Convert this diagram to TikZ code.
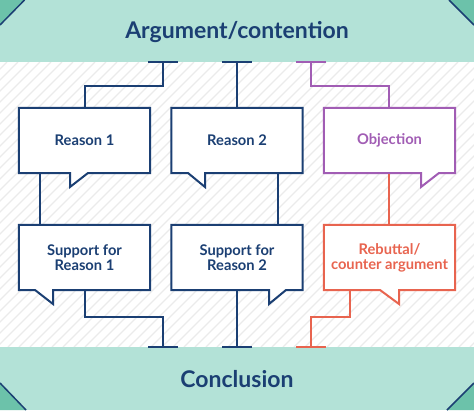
\documentclass[tikz,border=0pt]{standalone}
\usepackage{fontspec}
\setmainfont{Lato}
\usetikzlibrary{calc}
\definecolor{navy}{HTML}{1B3F73}
\definecolor{purp}{HTML}{A15DB4}
\definecolor{oran}{HTML}{E8644F}
\definecolor{band}{HTML}{B3E2D7}
\definecolor{corner}{HTML}{6CC2AA}
\definecolor{hatch}{HTML}{EBEBEB}
\tikzset{
  box/.style={minimum width=131pt, minimum height=65pt, inner sep=0pt, align=center,
    font=\fontsize{14.7}{15}\selectfont\bfseries},
  outline/.style={line width=2pt, fill=white, line join=miter},
  conn/.style={line width=2pt},
  title/.style={font=\fontsize{23}{26}\selectfont\bfseries, text=navy, inner sep=0pt},
}
\begin{document}
\begin{tikzpicture}[x=1pt,y=-1pt]
\useasboundingbox (0,0) rectangle (474,410);
% background hatch
\fill[white] (0,62) rectangle (474,347);
\begin{scope}
\clip (0,62) rectangle (474,347);
\foreach \i in {-300,-289,...,480}{
  \draw[hatch, line width=1.3pt] (\i,347) -- ++(285,-285);
}
\end{scope}
% bands
\fill[band] (0,0) rectangle (474,62);
\fill[band] (0,347) rectangle (474,410);
% corners
\fill[corner] (0,0) -- (24.5,0) -- (0,25) -- cycle;
\fill[corner] (474,0) -- (449,0) -- (474,25) -- cycle;
\fill[corner] (0,410) -- (26,410) -- (0,383) -- cycle;
\fill[corner] (474,410) -- (447,410) -- (474,383) -- cycle;
\draw[navy, line width=1.5pt] (24.5,0) -- (0,25);
\draw[navy, line width=1.5pt] (449,0) -- (474,25);
\draw[navy, line width=1.5pt] (26,410) -- (0,383);
\draw[navy, line width=1.5pt] (447,410) -- (474,383);
% titles
\node[title] (arg) at (237,32) {Argument/contention};
\node[title] (con) at (237,379) {Conclusion};
% box anchors (named nodes)
\node[box] (r1) at (84.5,140.5) {};
\node[box] (r2) at (237,140.5) {};
\node[box] (ob) at (389.5,140.5) {};
\node[box] (s1) at (84.5,257.5) {};
\node[box] (s2) at (237,257.5) {};
\node[box] (rb) at (389.5,257.5) {};
% outlines with tails
\draw[outline, draw=navy] (r1.north west) -- (r1.north east) -- (r1.south east) -- (88,173) -- (70,187) -- (70,173) -- (r1.south west) -- cycle;
\draw[outline, draw=navy] (r2.north west) -- (r2.north east) -- (r2.south east) -- (205,173) -- (205,187) -- (188,173) -- (r2.south west) -- cycle;
\draw[outline, draw=purp] (ob.north west) -- (ob.north east) -- (ob.south east) -- (439,173) -- (421,187) -- (421,173) -- (ob.south west) -- cycle;
\draw[outline, draw=navy] (s1.north west) -- (s1.north east) -- (s1.south east) -- (53,290) -- (53,304) -- (35,290) -- (s1.south west) -- cycle;
\draw[outline, draw=navy] (s2.north west) -- (s2.north east) -- (s2.south east) -- (286,290) -- (269,304) -- (269,290) -- (s2.south west) -- cycle;
\draw[outline, draw=oran] (rb.north west) -- (rb.north east) -- (rb.south east) -- (399,290) -- (399,304) -- (380,290) -- (rb.south west) -- cycle;
% texts
\node[box, text=navy] at (r1) {Reason 1};
\node[box, text=navy] at (r2) {Reason 2};
\node[box, text=purp] at (ob) {Objection};
\node[box, text=navy] at (s1) {Support for\\Reason 1};
\node[box, text=navy] at (s2) {Support for\\Reason 2};
\node[box, text=oran] at (rb) {Rebuttal/\\counter argument};
% tee coordinates
\coordinate (ta) at (163,62);
\coordinate (tb) at (237,62);
\coordinate (tc) at (311,62);
\coordinate (ba) at (163,347);
\coordinate (bb) at (237,347);
\coordinate (bc) at (311,347);
% top connectors
\draw[conn, navy] ($(ta)+(-15,0)$) -- ($(ta)+(15,0)$);
\draw[conn, navy] ($(tb)+(-15,0)$) -- ($(tb)+(15,0)$);
\draw[conn, purp] ($(tc)+(-15,0)$) -- ($(tc)+(15,0)$);
\draw[conn, navy] (ta) -- (163,86) -- (85,86) -- (85,107);
\draw[conn, navy] (tb) -- (r2.north);
\draw[conn, purp] (tc) -- (311,86) -- (389,86) -- (389,107);
% middle connectors
\draw[conn, navy] (40,174) -- (40,224);
\draw[conn, navy] (278,174) -- (278,224);
\draw[conn, oran] (389,174) -- (389,224);
% bottom connectors
\draw[conn, navy] (85,291) -- (85,317) -- (163,317) -- (ba);
\draw[conn, navy] (s2.south) -- (bb);
\draw[conn, oran] (350,291) -- (350,317) -- (311,317) -- (bc);
\draw[conn, navy] ($(ba)+(-15,0)$) -- ($(ba)+(15,0)$);
\draw[conn, navy] ($(bb)+(-15,0)$) -- ($(bb)+(15,0)$);
\draw[conn, oran] ($(bc)+(-15,0)$) -- ($(bc)+(15,0)$);
\end{tikzpicture}
\end{document}
